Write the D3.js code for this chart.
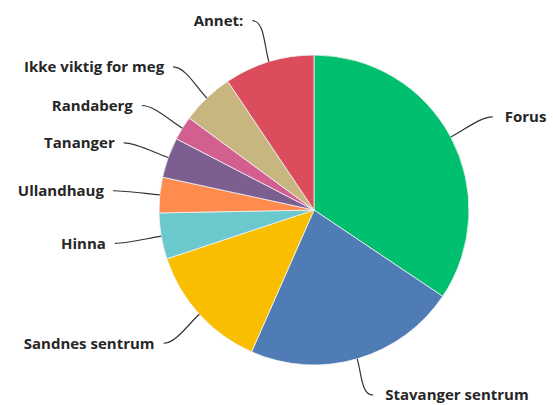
<!DOCTYPE html>
<html>
<head>
<meta charset="utf-8">
<script src="https://cdn.jsdelivr.net/npm/d3@7"></script>
<style>
  body { margin: 0; background: #fff; }
  .lbl { font-family: "Open Sans", Roboto, sans-serif; font-weight: 700; font-size: 15px; fill: #262626; }
</style>
</head>
<body>
<div id="chart"></div>
<script>
  // answer categories, clockwise from 12 o'clock
  var categories = ["Forus", "Stavanger sentrum", "Sandnes sentrum", "Hinna", "Ullandhaug",
                    "Tananger", "Randaberg", "Ikke viktig for meg", "Annet:"];
  // share of answers (%)
  var values = [34.4, 22.2, 13.3, 4.8, 3.7, 4.2, 2.5, 5.5, 9.4];
  var colors = ["#00bf6f", "#507cb6", "#f9be00", "#6bc8cd", "#ff8b4f",
                "#7d5e90", "#d25f90", "#c8b680", "#db4d5c"];

  var width = 553, height = 405;
  var cx = 314, cy = 210, radius = 155;
  var labelDist = 43;

  var svg = d3.select("#chart")
      .append("svg")
      .attr("width", width)
      .attr("height", height);

  var data = categories.map(function(c, i) {
      return { name: c, value: values[i], color: colors[i] };
  });

  var pie = d3.pie()
      .sort(null)
      .value(function(d) { return d.value; });

  var arcs = pie(data);

  var arc = d3.arc()
      .innerRadius(0)
      .outerRadius(radius);

  var g = svg.append("g")
      .attr("transform", "translate(" + cx + "," + cy + ")");

  g.selectAll("path.slice")
      .data(arcs)
      .enter()
      .append("path")
      .attr("class", "slice")
      .attr("d", arc)
      .attr("fill", function(d) { return d.data.color; })
      .attr("stroke", "#f4f4f4")
      .attr("stroke-width", 0.8);

  // point on a circle of radius r at the middle of a slice
  function polar(d, r) {
      var a = (d.startAngle + d.endAngle) / 2;
      var p = [r * Math.sin(a), -r * Math.cos(a)];
      // keep the bottom label inside the frame
      if (r > radius && p[1] > 185) p[1] = 185;
      return p;
  }

  // connectors
  g.selectAll("path.conn")
      .data(arcs)
      .enter()
      .append("path")
      .attr("class", "conn")
      .attr("fill", "none")
      .attr("stroke", "#333")
      .attr("stroke-width", 1.2)
      .attr("d", function(d) {
          var p = polar(d, radius + labelDist);
          var side = p[0] < 0 ? -1 : 1;
          var s = [p[0] + side * 4, p[1]];
          var c1 = [p[0] - side * 8, p[1]];
          var c2 = polar(d, radius + 16);
          var e = polar(d, radius);
          return "M" + s + "C" + c1 + " " + c2 + " " + e;
      });

  // labels
  g.selectAll("text.lbl")
      .data(arcs)
      .enter()
      .append("text")
      .attr("class", "lbl")
      .attr("x", function(d) {
          var p = polar(d, radius + labelDist);
          return p[0] < 0 ? p[0] - 13 : p[0] + 16;
      })
      .attr("y", function(d) { return polar(d, radius + labelDist)[1]; })
      .attr("dy", "0.35em")
      .attr("text-anchor", function(d) {
          return polar(d, 1)[0] < 0 ? "end" : "start";
      })
      .text(function(d) { return d.data.name; });
</script>
</body>
</html>
